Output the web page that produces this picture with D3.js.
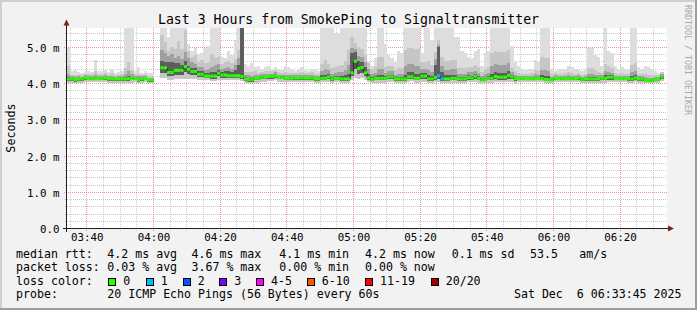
<!DOCTYPE html>
<html><head><meta charset="utf-8">
<script src="https://cdn.jsdelivr.net/npm/d3@7"></script>
<style>
html,body{margin:0;padding:0;background:#f2f2f2;}
svg{display:block;}
text{font-family:"DejaVu Sans Mono",monospace;fill:#000;}
</style></head>
<body><svg id="chart" width="697" height="310"></svg>
<script>
// ---------------- data ----------------
const title = "Last 3 Hours from SmokePing to Signaltransmitter";
const yAxisTitle = "Seconds";
const watermark = "RRDTOOL / TOBI OETIKER";
const startTime = new Date(2025, 11, 6, 3, 34, 5);
const stepMinutes = 1;
const spanMinutes = 180;

// median rtt per sample (ms)
const median = [
 4.13,4.13,4.11,4.13,4.13,4.16,4.14,4.14,4.14,4.14,
 4.14,4.16,4.13,4.13,4.13,4.13,4.13,4.13,4.14,4.14,
 4.14,4.10,4.13,4.14,4.10,4.10,null,null,4.44,4.44,
 4.31,4.31,4.37,4.37,4.37,4.47,4.40,4.34,4.34,4.26,
 4.26,4.21,4.21,4.21,4.21,4.29,4.24,4.24,4.22,4.22,
 4.22,4.22,4.20,4.13,4.11,4.11,4.15,4.15,4.18,4.18,
 4.20,4.20,4.22,4.17,4.17,4.15,4.15,4.15,4.16,4.16,
 4.16,4.16,4.16,4.16,4.13,4.13,4.15,4.15,4.19,4.13,
 4.15,4.15,4.13,4.13,4.13,4.30,4.62,4.42,4.45,4.30,
 4.16,4.12,4.15,4.15,4.15,4.15,4.19,4.19,4.13,4.13,
 4.13,4.13,4.19,4.19,4.15,4.15,4.21,4.21,4.13,4.13,
 4.17,4.22,4.13,4.13,4.13,4.15,4.15,4.13,4.13,4.13,
 4.17,4.16,4.21,4.15,4.11,4.11,4.15,4.15,4.20,4.18,
 4.18,4.18,4.23,4.19,4.14,4.14,4.14,4.14,4.14,4.14,
 4.14,4.14,4.14,4.12,4.11,4.11,4.15,4.14,4.14,4.14,
 4.14,4.14,4.14,4.16,4.11,4.13,4.13,4.13,4.13,4.13,
 4.15,4.15,4.18,4.18,4.14,4.14,4.14,4.14,4.13,4.13,
 4.16,4.13,4.13,4.09,4.09,4.09,4.12,4.12,4.19,null];

// lost pings per sample (out of 20)
const lossCount = [
 0,0,0,0,0,0,0,0,0,0, 0,0,0,0,0,0,0,0,0,0,
 0,0,0,0,0,0,null,null,0,0, 0,0,0,0,0,0,0,0,0,0,
 0,0,0,0,0,0,0,0,0,0, 0,0,0,0,0,0,0,0,0,0,
 0,0,0,0,0,0,0,0,0,0, 0,0,0,0,0,0,0,0,0,0,
 0,0,0,0,0,0,0,0,0,0, 0,0,0,0,0,0,0,0,0,0,
 0,0,0,0,0,0,0,0,0,0, 0,1,1,0,0,0,0,0,0,0,
 0,0,0,0,0,0,0,0,0,0, 0,0,0,0,0,0,0,0,0,0,
 0,0,0,0,0,0,0,0,0,0, 0,0,0,0,0,0,0,0,0,0,
 0,0,0,0,0,0,0,0,0,0, 0,0,0,0,0,0,0,0,0,null];

// highest ping per sample (ms) - outer smoke
const smokeMax = [
 5.0,4.34,4.38,4.32,4.30,4.34,4.36,4.32,4.66,4.34,
 4.36,4.38,4.33,4.40,4.30,4.32,4.35,6,6,6,
 4.36,4.45,4.30,4.36,4.30,4.30,null,null,6,6,
 5.3,6,6,6,6,6,5.1,4.9,5.0,4.8,
 4.85,5.0,5.05,6,6,6,4.75,4.7,4.9,4.8,
 5.2,6,6,4.55,4.5,4.57,4.45,4.5,4.4,4.45,
 4.5,4.42,4.45,4.4,4.38,4.48,4.45,4.4,4.36,4.4,
 4.45,4.38,4.35,4.42,4.4,4.36,6,6,6,6,
 5.4,5.4,6,6,6,6,6,6,6,6,
 4.6,4.5,4.7,6,6,5.1,4.8,4.7,4.6,4.9,
 4.85,6,6,6,6,6,4.85,6,6,5.2,
 6,6,6,6,6,6,5.3,5.3,4.9,4.85,
 4.75,4.7,4.9,4.95,4.5,4.85,4.9,6,6,6,
 6,6,6,5.05,4.6,4.5,4.4,4.38,4.4,4.42,
 4.66,4.6,6,6,6,4.4,4.35,4.38,4.4,4.42,
 4.5,4.45,4.4,4.38,4.36,4.4,5.0,4.98,4.8,4.75,
 4.5,6,4.9,4.85,4.5,4.4,4.45,4.42,4.4,6,
 6,4.45,4.4,4.5,4.45,4.4,4.35,4.3,4.3,null];

// height of inner smoke bands above the median (ms)
const smokeUp2 = [
 0.35,0.12,0.14,0.12,0.11,0.12,0.13,0.12,0.2,0.12,
 0.13,0.14,0.12,0.16,0.11,0.12,0.13,0.3,0.45,0.25,
 0.13,0.18,0.12,0.14,0.12,0.12,null,null,0.9,0.7,
 0.6,0.7,0.6,0.8,0.6,1.0,0.5,0.4,0.45,0.35,
 0.4,0.35,0.4,0.6,0.5,0.45,0.3,0.35,0.4,0.35,
 0.45,0.7,1.5,0.2,0.2,0.2,0.2,0.15,0.14,0.16,
 0.15,0.14,0.15,0.14,0.13,0.16,0.15,0.14,0.13,0.14,
 0.15,0.14,0.13,0.15,0.14,0.13,0.4,0.5,0.35,0.3,
 0.3,0.35,0.4,0.5,0.8,1.0,0.5,0.6,0.5,0.5,
 0.4,0.3,0.3,0.6,0.6,0.3,0.3,0.3,0.25,0.3,
 0.3,0.8,0.8,0.8,0.8,0.8,0.4,0.4,0.5,0.4,
 0.7,1.0,0.6,0.5,0.5,0.5,0.5,0.3,0.3,0.3,
 0.3,0.3,0.3,0.3,0.2,0.3,0.3,0.7,0.7,0.7,
 0.7,0.7,0.7,0.25,0.2,0.15,0.14,0.13,0.14,0.15,
 0.25,0.2,0.6,0.6,0.6,0.15,0.14,0.13,0.14,0.15,
 0.18,0.15,0.14,0.13,0.14,0.15,0.3,0.3,0.25,0.2,
 0.15,0.4,0.3,0.25,0.15,0.14,0.15,0.14,0.13,0.4,
 0.4,0.15,0.14,0.18,0.15,0.14,0.13,0.12,0.12,null];
const smokeUp3 = [
 0.15,0.07,0.08,0.07,0.06,0.07,0.07,0.07,0.1,0.07,
 0.07,0.08,0.07,0.09,0.06,0.07,0.07,0.15,0.2,0.12,
 0.07,0.1,0.07,0.08,0.07,0.07,null,null,0.5,0.4,
 0.45,0.5,0.35,0.4,0.3,0.4,0.3,0.25,0.2,0.2,
 0.2,0.18,0.2,0.25,0.3,0.25,0.18,0.2,0.25,0.2,
 0.3,0.5,1.4,0.12,0.12,0.1,0.1,0.09,0.08,0.09,
 0.08,0.08,0.09,0.08,0.07,0.09,0.08,0.08,0.07,0.08,
 0.08,0.08,0.07,0.08,0.08,0.07,0.2,0.25,0.18,0.15,
 0.15,0.18,0.2,0.25,0.4,0.7,0.35,0.35,0.3,0.3,
 0.25,0.15,0.15,0.25,0.25,0.15,0.15,0.15,0.12,0.15,
 0.15,0.35,0.35,0.35,0.35,0.35,0.2,0.2,0.25,0.2,
 0.5,0.85,0.35,0.25,0.25,0.25,0.25,0.15,0.15,0.15,
 0.15,0.15,0.15,0.15,0.1,0.15,0.15,0.35,0.35,0.35,
 0.35,0.35,0.35,0.12,0.1,0.08,0.08,0.07,0.08,0.08,
 0.12,0.1,0.25,0.25,0.25,0.08,0.08,0.07,0.08,0.08,
 0.1,0.08,0.08,0.07,0.08,0.08,0.15,0.15,0.12,0.1,
 0.08,0.2,0.15,0.12,0.08,0.08,0.08,0.08,0.07,0.2,
 0.2,0.08,0.08,0.1,0.08,0.08,0.07,0.07,0.07,null];
const smokeUp4 = [
 0.05,0.03,0.03,0.03,0.03,0.03,0.03,0.03,0.04,0.03,
 0.03,0.03,0.03,0.04,0.03,0.03,0.03,0.06,0.08,0.05,
 0.03,0.04,0.03,0.03,0.03,0.03,null,null,0.2,0.15,
 0.3,0.3,0.2,0.2,0.15,0.15,0.1,0.1,0.1,0.08,
 0.08,0.08,0.08,0.1,0.1,0.1,0.08,0.1,0.12,0.1,
 0.15,0.3,1.4,0.05,0.05,0.04,0.04,0.04,0.03,0.04,
 0.03,0.03,0.04,0.03,0.03,0.04,0.03,0.03,0.03,0.03,
 0.03,0.03,0.03,0.03,0.03,0.03,0.08,0.1,0.07,0.06,
 0.06,0.07,0.08,0.1,0.15,0.55,0.25,0.2,0.15,0.15,
 0.1,0.06,0.06,0.1,0.1,0.06,0.06,0.06,0.05,0.06,
 0.06,0.12,0.12,0.12,0.12,0.12,0.08,0.08,0.1,0.08,
 0.35,0.8,0.2,0.1,0.1,0.1,0.1,0.06,0.06,0.06,
 0.06,0.06,0.06,0.06,0.04,0.06,0.06,0.12,0.12,0.12,
 0.12,0.12,0.12,0.05,0.04,0.03,0.03,0.03,0.03,0.03,
 0.05,0.04,0.1,0.1,0.1,0.03,0.03,0.03,0.03,0.03,
 0.04,0.03,0.03,0.03,0.03,0.03,0.06,0.06,0.05,0.04,
 0.03,0.08,0.06,0.05,0.03,0.03,0.03,0.03,0.03,0.08,
 0.08,0.03,0.03,0.04,0.03,0.03,0.03,0.03,0.03,null];

// depth of smoke below the median (ms): outer (lowest ping) and inner
const smokeDown1 = [
 0.1,0.1,0.09,0.1,0.11,0.12,0.1,0.1,0.1,0.1,
 0.1,0.11,0.1,0.1,0.1,0.1,0.1,0.11,0.12,0.11,
 0.1,0.08,0.1,0.1,0.08,0.08,null,null,0.28,0.28,
 0.2,0.2,0.25,0.25,0.25,0.35,0.28,0.22,0.22,0.15,
 0.15,0.12,0.12,0.13,0.13,0.18,0.14,0.14,0.12,0.12,
 0.13,0.13,0.12,0.1,0.1,0.1,0.12,0.12,0.12,0.12,
 0.12,0.12,0.13,0.11,0.11,0.1,0.1,0.1,0.11,0.11,
 0.11,0.11,0.11,0.1,0.1,0.1,0.11,0.11,0.13,0.1,
 0.1,0.1,0.1,0.1,0.1,0.2,0.45,0.3,0.3,0.2,
 0.1,0.1,0.12,0.12,0.12,0.12,0.14,0.14,0.1,0.1,
 0.1,0.11,0.14,0.12,0.12,0.12,0.15,0.15,0.1,0.1,
 0.13,0.18,0.1,0.12,0.12,0.12,0.12,0.1,0.1,0.1,
 0.12,0.12,0.15,0.12,0.08,0.08,0.12,0.12,0.15,0.14,
 0.14,0.14,0.18,0.15,0.15,0.1,0.1,0.1,0.1,0.1,
 0.1,0.1,0.1,0.1,0.08,0.08,0.1,0.1,0.1,0.1,
 0.1,0.1,0.1,0.12,0.08,0.1,0.1,0.1,0.1,0.1,
 0.12,0.12,0.14,0.14,0.1,0.1,0.1,0.1,0.1,0.1,
 0.12,0.1,0.1,0.08,0.08,0.08,0.1,0.1,0.12,null];
const smokeDown2 = [
 0.05,0.05,0.05,0.05,0.05,0.06,0.05,0.05,0.05,0.05,
 0.05,0.05,0.05,0.05,0.05,0.05,0.05,0.05,0.06,0.05,
 0.05,0.04,0.05,0.05,0.04,0.04,null,null,0.14,0.14,
 0.1,0.1,0.12,0.12,0.12,0.16,0.13,0.1,0.1,0.07,
 0.07,0.06,0.06,0.07,0.07,0.09,0.07,0.07,0.06,0.06,
 0.07,0.07,0.06,0.05,0.05,0.05,0.06,0.06,0.06,0.06,
 0.06,0.06,0.06,0.05,0.05,0.05,0.05,0.05,0.05,0.05,
 0.05,0.05,0.05,0.05,0.05,0.05,0.05,0.05,0.06,0.05,
 0.05,0.05,0.05,0.05,0.05,0.1,0.2,0.15,0.15,0.1,
 0.05,0.05,0.06,0.06,0.06,0.06,0.07,0.07,0.05,0.05,
 0.05,0.05,0.07,0.06,0.06,0.06,0.07,0.07,0.05,0.05,
 0.06,0.09,0.05,0.06,0.06,0.06,0.06,0.05,0.05,0.05,
 0.06,0.06,0.07,0.06,0.04,0.04,0.06,0.06,0.07,0.07,
 0.07,0.07,0.09,0.07,0.07,0.05,0.05,0.05,0.05,0.05,
 0.05,0.05,0.05,0.05,0.04,0.04,0.05,0.05,0.05,0.05,
 0.05,0.05,0.05,0.06,0.04,0.05,0.05,0.05,0.05,0.05,
 0.06,0.06,0.07,0.07,0.05,0.05,0.05,0.05,0.05,0.05,
 0.06,0.05,0.05,0.04,0.04,0.04,0.05,0.05,0.06,null];

const yTicks = [0, 1, 2, 3, 4, 5];
const yTickLabels = ["0.0", "1.0 m", "2.0 m", "3.0 m", "4.0 m", "5.0 m"];
const yMinorStep = 0.2;
const xMinorMinutes = 5;
const xMajorMinutes = 20;

const lossLabels = ["0", "1", "2", "3", "4-5", "6-10", "11-19", "20/20"];
const lossColors = ["#26ff00", "#00b8ff", "#0059ff", "#7e00ff", "#ff00ff", "#ff5500", "#ff0000", "#a10000"];
const smokeColors = ["#dddddd", "#c6c6c6", "#a0a0a0", "#5e5e5e"];

const legendRtt = ["median rtt:", "4.2 ms avg", "4.6 ms max", "4.1 ms min", "4.2 ms now", "0.1 ms sd", "53.5", "am/s"];
const legendLoss = ["packet loss:", "0.03 % avg", "3.67 % max", "0.00 % min", "0.00 % now"];
const legendProbe = ["probe:", "20 ICMP Echo Pings (56 Bytes) every 60s"];
const legendDate = "Sat Dec  6 06:33:45 2025";

// ---------------- layout ----------------
const W = 697, H = 310;
const plot = {left: 67, right: 667, top: 28, bottom: 228.5};
const legendX = [16, 107.3, 191.5, 279.3, 365, 451.7, 530, 579.3];
const lossBoxX = [108.3, 145.7, 182.7, 219.3, 256, 306.7, 365, 430.7];

const svg = d3.select("#chart");

const x = d3.scaleTime()
  .domain([startTime, d3.timeMinute.offset(startTime, spanMinutes)])
  .range([plot.left, plot.right]);
const y = d3.scaleLinear()
  .domain([0, 5.539])
  .range([plot.bottom, plot.top]);

function lossIndex(c) {
  if (c === 0) return 0; if (c === 1) return 1; if (c === 2) return 2; if (c === 3) return 3;
  if (c <= 5) return 4; if (c <= 10) return 5; if (c <= 19) return 6; return 7;
}

// background and frame
svg.append("rect").attr("width", W).attr("height", H).attr("fill", "#f2f2f2");
svg.append("rect").attr("x", plot.left).attr("y", plot.top)
  .attr("width", plot.right - plot.left).attr("height", plot.bottom - plot.top)
  .attr("fill", "#ffffff");
svg.append("path").attr("d", `M0,${H} V0 H${W}`).attr("fill", "none")
  .attr("stroke", "#cfcfcf").attr("stroke-width", 4);
svg.append("path").attr("d", `M0,${H} H${W} V0`).attr("fill", "none")
  .attr("stroke", "#9e9e9e").attr("stroke-width", 4);

// grid
const gGrid = svg.append("g").attr("shape-rendering", "crispEdges");
const minorTimes = d3.timeMinute.every(xMinorMinutes).range(startTime, d3.timeMinute.offset(startTime, spanMinutes));
const px = v => Math.floor(x(v)) + 0.5;
const py = v => Math.floor(y(v)) + 0.5;
gGrid.selectAll("line.vmin").data(minorTimes.filter(t => t.getMinutes() % xMajorMinutes !== 0))
  .join("line").attr("x1", px).attr("x2", px).attr("y1", plot.top).attr("y2", plot.bottom + 2)
  .attr("stroke", "#8f8f8f").attr("stroke-opacity", 0.45).attr("stroke-dasharray", "1,1");
const minorY = d3.range(0, 5.54, yMinorStep).filter(v => Math.abs(v - Math.round(v)) > 1e-6);
gGrid.selectAll("line.hmin").data(minorY)
  .join("line").attr("x1", plot.left - 2).attr("x2", plot.right).attr("y1", py).attr("y2", py)
  .attr("stroke", "#8f8f8f").attr("stroke-opacity", 0.45).attr("stroke-dasharray", "1,1");
gGrid.selectAll("line.vmaj").data(minorTimes.filter(t => t.getMinutes() % xMajorMinutes === 0))
  .join("line").attr("x1", px).attr("x2", px).attr("y1", plot.top).attr("y2", plot.bottom + 3)
  .attr("stroke", "#de5050").attr("stroke-opacity", 0.6).attr("stroke-dasharray", "1,1");
gGrid.selectAll("line.hmaj").data(yTicks.filter(v => v > 0))
  .join("line").attr("x1", plot.left - 3).attr("x2", plot.right).attr("y1", py).attr("y2", py)
  .attr("stroke", "#de5050").attr("stroke-opacity", 0.6).attr("stroke-dasharray", "1,1");

// smoke
svg.append("clipPath").attr("id", "clip").append("rect")
  .attr("x", plot.left).attr("y", plot.top)
  .attr("width", plot.right - plot.left).attr("height", plot.bottom - plot.top);
const samples = median.map((m, i) => ({
  i, m, t0: d3.timeMinute.offset(startTime, i * stepMinutes),
  t1: d3.timeMinute.offset(startTime, (i + 1) * stepMinutes),
  max: smokeMax[i], u2: smokeUp2[i], u3: smokeUp3[i], u4: smokeUp4[i],
  d1: smokeDown1[i], d2: smokeDown2[i], loss: lossCount[i]
})).filter(d => d.m !== null);

const bands = [
  {c: smokeColors[0], lo: d => d.m - d.d1, hi: d => d.max},
  {c: smokeColors[1], lo: d => d.m - d.d1, hi: d => d.m + d.u2},
  {c: smokeColors[2], lo: d => d.m - d.d2, hi: d => d.m + d.u3},
  {c: smokeColors[3], lo: d => d.m - d.d2, hi: d => d.m + d.u4}
];
const gSmoke = svg.append("g").attr("clip-path", "url(#clip)").attr("shape-rendering", "crispEdges");
bands.forEach(b => {
  gSmoke.append("g").selectAll("rect").data(samples).join("rect")
    .attr("x", d => x(d.t0)).attr("width", d => x(d.t1) - x(d.t0))
    .attr("y", d => y(b.hi(d))).attr("height", d => Math.max(0, y(b.lo(d)) - y(b.hi(d))))
    .attr("fill", b.c);
});

// median: dark step line + loss coloured bars
const gMed = svg.append("g").attr("clip-path", "url(#clip)");
const stepPts = [];
median.forEach((m, i) => {
  if (m === null) { stepPts.push(null); return; }
  stepPts.push([d3.timeMinute.offset(startTime, i), m]);
  stepPts.push([d3.timeMinute.offset(startTime, i + 1), m]);
});
const medLine = d3.line().defined(d => d !== null).x(d => x(d[0])).y(d => y(d[1]));
gMed.append("path").attr("d", medLine(stepPts)).attr("fill", "none")
  .attr("stroke", "#202020").attr("stroke-width", 1);
gMed.selectAll("rect").data(samples).join("rect")
  .attr("x", d => x(d.t0)).attr("width", d => x(d.t1) - x(d.t0))
  .attr("y", d => y(d.m) - 1.5).attr("height", 3)
  .attr("fill", d => lossColors[lossIndex(d.loss)]);

// axes
const gAxis = svg.append("g").attr("shape-rendering", "crispEdges");
gAxis.append("line").attr("x1", 66.5).attr("x2", 66.5).attr("y1", plot.bottom + 3).attr("y2", 24)
  .attr("stroke", "#1f1f1f");
gAxis.append("line").attr("x1", 63).attr("x2", 669).attr("y1", 228.5).attr("y2", 228.5)
  .attr("stroke", "#1f1f1f");
svg.append("path").attr("d", "M66.5,19.5 L69.5,25.5 L63.5,25.5 Z").attr("fill", "#801f1f");
svg.append("path").attr("d", "M674,228.5 L668,225.5 L668,231.5 Z").attr("fill", "#801f1f");

// tick labels
svg.append("g").selectAll("text").data(yTicks).join("text")
  .attr("x", 59.5).attr("y", v => Math.floor(y(v)) + 4.5)
  .attr("text-anchor", "end").attr("font-size", "10.8px")
  .text((v, i) => yTickLabels[i]);
const fmt = d3.timeFormat("%H:%M");
svg.append("g").selectAll("text")
  .data(minorTimes.filter(t => t.getMinutes() % xMajorMinutes === 0))
  .join("text").attr("x", d => x(d) + 0.5).attr("y", 240.5)
  .attr("text-anchor", "middle").attr("font-size", "10.8px").text(fmt);

// titles
svg.append("text").attr("x", 348.5).attr("y", 24).attr("text-anchor", "middle")
  .attr("font-size", "13.2px").text(title);
svg.append("text").attr("transform", "translate(14.5,128) rotate(-90)")
  .attr("text-anchor", "middle").attr("font-size", "11.7px").text(yAxisTitle);
svg.append("text").attr("transform", "translate(685,5) rotate(90)")
  .attr("font-size", "8.3px").style("fill", "#a8a8a8").text(watermark);

// legend
const lg = svg.append("g").attr("font-size", "11.6px").attr("xml:space", "preserve");
const lineY = [257.5, 271, 284.7, 298.3];
lg.selectAll("text.r").data(legendRtt).join("text")
  .attr("x", (d, i) => legendX[i]).attr("y", lineY[0]).text(d => d);
lg.selectAll("text.l").data(legendLoss).join("text")
  .attr("x", (d, i) => legendX[i]).attr("y", lineY[1]).text(d => d);
lg.append("text").attr("x", legendX[0]).attr("y", lineY[2]).text("loss color:");
const lc = lg.selectAll("g.lc").data(lossLabels).join("g");
lc.append("rect").attr("x", (d, i) => lossBoxX[i] + 0.5).attr("y", 278.5)
  .attr("width", 7).attr("height", 7)
  .attr("fill", (d, i) => lossColors[i]).attr("stroke", "#000").attr("stroke-width", 1)
  .attr("shape-rendering", "crispEdges");
lc.append("text").attr("x", (d, i) => lossBoxX[i] + 15).attr("y", lineY[2]).text(d => d);
lg.selectAll("text.p").data(legendProbe).join("text")
  .attr("x", (d, i) => legendX[i]).attr("y", lineY[3]).text(d => d);
lg.append("text").attr("x", 681.5).attr("y", lineY[3]).attr("text-anchor", "end")
  .style("white-space", "pre").text(legendDate);
</script>
</body></html>
